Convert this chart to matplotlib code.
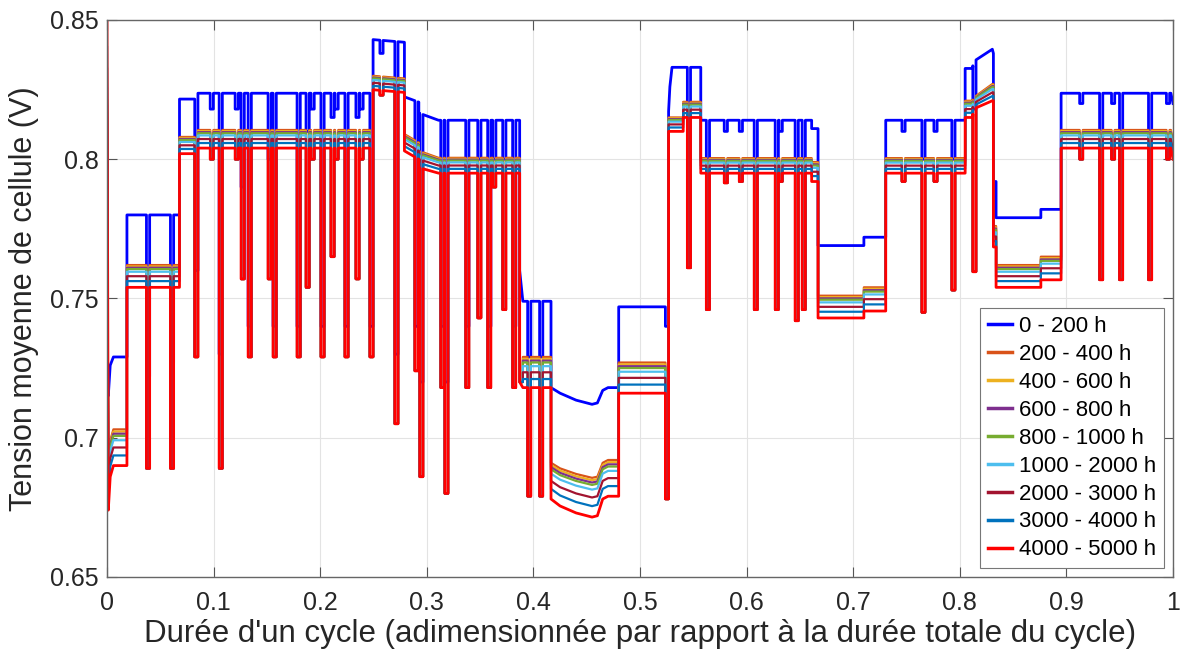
import numpy as np
import matplotlib.pyplot as plt

plt.rcParams['font.family'] = ['Liberation Sans', 'DejaVu Sans']

# breakpoints of the mean cell voltage profile (a repeated x gives a vertical step)
x_pts = [0.0, 0.0012, 0.003, 0.006, 0.0187, 0.0187, 0.068, 0.068, 0.0838, 0.0838,
         0.2481, 0.2481, 0.279, 0.279, 0.2925, 0.2925, 0.311, 0.39, 0.39, 0.4165,
         0.4165, 0.425, 0.44, 0.455, 0.46, 0.465, 0.47, 0.48, 0.48, 0.5265,
         0.5265, 0.528, 0.530, 0.5405, 0.5405, 0.557, 0.557, 0.661, 0.661, 0.667,
         0.667, 0.710, 0.710, 0.7305, 0.7305, 0.805, 0.805, 0.812, 0.8125, 0.8305,
         0.8315, 0.8315, 0.834, 0.834, 0.876, 0.876, 0.895, 0.895, 0.998, 1.0]

# 0 - 200 h
v_new = [0.722, 0.715, 0.726, 0.729, 0.729, 0.780, 0.780, 0.8216, 0.8216, 0.8237,
         0.8237, 0.843, 0.842, 0.8224, 0.8205, 0.8166, 0.814, 0.814, 0.749, 0.749,
         0.718, 0.716, 0.7135, 0.712, 0.7125, 0.717, 0.718, 0.718, 0.747, 0.747,
         0.815, 0.826, 0.833, 0.833, 0.833, 0.833, 0.814, 0.814, 0.811, 0.811,
         0.769, 0.769, 0.772, 0.772, 0.814, 0.814, 0.8326, 0.8326, 0.835, 0.8395,
         0.838, 0.792, 0.792, 0.779, 0.779, 0.782, 0.782, 0.8237, 0.8237, 0.820]

# 200 - 400 h (highest of the aged curves)
v_top = [0.815, 0.688, 0.699, 0.703, 0.703, 0.762, 0.762, 0.808, 0.808, 0.8105,
         0.8105, 0.830, 0.829, 0.809, 0.806, 0.803, 0.8005, 0.8005, 0.729, 0.729,
         0.691, 0.689, 0.687, 0.6856, 0.686, 0.691, 0.692, 0.692, 0.727, 0.727,
         0.815, 0.815, 0.815, 0.815, 0.8206, 0.8206, 0.8004, 0.8004, 0.799, 0.799,
         0.751, 0.751, 0.754, 0.754, 0.8004, 0.8004, 0.821, 0.821, 0.822, 0.827,
         0.827, 0.776, 0.776, 0.762, 0.762, 0.765, 0.765, 0.8105, 0.8105, 0.806]

# 4000 - 5000 h (lowest curve)
v_low = [0.850, 0.674, 0.686, 0.690, 0.690, 0.754, 0.754, 0.802, 0.802, 0.804,
         0.804, 0.825, 0.824, 0.803, 0.800, 0.797, 0.795, 0.795, 0.718, 0.718,
         0.678, 0.6755, 0.673, 0.6715, 0.672, 0.678, 0.679, 0.679, 0.716, 0.716,
         0.810, 0.810, 0.810, 0.810, 0.815, 0.815, 0.795, 0.795, 0.792, 0.792,
         0.743, 0.743, 0.7455, 0.7455, 0.795, 0.795, 0.815, 0.815, 0.818, 0.821,
         0.821, 0.7685, 0.7685, 0.754, 0.754, 0.7567, 0.7567, 0.804, 0.804, 0.800]

# short dips: position, minimum of the 0-200 h curve, minimum of the aged curves
dip_x = [0.0385, 0.0610, 0.0838, 0.0983, 0.1067, 0.1217, 0.1273, 0.1339, 0.1526, 0.1573,
         0.1798, 0.1882, 0.1929, 0.2022, 0.2116, 0.2154, 0.2247, 0.2350, 0.2388, 0.2481,
         0.2575, 0.2715, 0.2903, 0.2949, 0.3146, 0.3184, 0.3380, 0.3493, 0.3586, 0.3633,
         0.3727, 0.3820, 0.3886, 0.3961, 0.4073, 0.5253, 0.5459, 0.5637, 0.5805, 0.5946,
         0.6086, 0.6283, 0.6320, 0.6470, 0.6536, 0.7472, 0.7659, 0.7772, 0.7940, 0.8137,
         0.9139, 0.9326, 0.9438, 0.9513, 0.9785, 0.9953]
dip_new = [0.722, 0.727, 0.760, 0.818, 0.730, 0.818, 0.790, 0.740, 0.800, 0.740,
           0.740, 0.810, 0.818, 0.740, 0.815, 0.818, 0.740, 0.815, 0.818, 0.740,
           0.838, 0.730, 0.740, 0.720, 0.740, 0.720, 0.740, 0.800, 0.740, 0.800,
           0.800, 0.740, 0.760, 0.729, 0.729, 0.740, 0.815, 0.800, 0.810, 0.810,
           0.800, 0.800, 0.810, 0.800, 0.800, 0.810, 0.800, 0.810, 0.800, 0.818,
           0.820, 0.808, 0.820, 0.808, 0.808, 0.820]
dip_old = [0.689, 0.689, 0.729, 0.800, 0.689, 0.800, 0.757, 0.729, 0.757, 0.729,
           0.729, 0.754, 0.800, 0.729, 0.765, 0.800, 0.729, 0.757, 0.800, 0.729,
           0.823, 0.705, 0.724, 0.686, 0.718, 0.680, 0.718, 0.743, 0.718, 0.790,
           0.746, 0.718, 0.720, 0.679, 0.679, 0.678, 0.761, 0.746, 0.7915, 0.792,
           0.746, 0.746, 0.792, 0.742, 0.746, 0.792, 0.745, 0.792, 0.753, 0.7596,
           0.800, 0.7567, 0.800, 0.7567, 0.7567, 0.800]
dip_w = 0.003

labels = ['0 - 200 h', '200 - 400 h', '400 - 600 h', '600 - 800 h', '800 - 1000 h',
          '1000 - 2000 h', '2000 - 3000 h', '3000 - 4000 h', '4000 - 5000 h']
colors = ['#0000FF', '#D95319', '#EDB120', '#7E2F8E', '#77AC30',
          '#4DBEEE', '#A2142F', '#0072BD', '#FF0000']
# where each aged curve sits between v_top (0) and v_low (1)
spread = [0.0, 0.06, 0.12, 0.18, 0.30, 0.50, 0.72, 1.0]


def add_dips(xp, yp, dx, dmin):
    xp = np.asarray(xp)
    yp = np.asarray(yp)
    keep = np.ones(len(xp), dtype=bool)
    for d in dx:
        keep &= np.abs(xp - d) > dip_w / 2
    xs = list(xp[keep])
    ys = list(yp[keep])
    for d, m in zip(dx, dmin):
        left = np.interp(d - dip_w / 2, xp, yp)
        right = np.interp(d + dip_w / 2, xp, yp)
        xs += [d - dip_w / 2, d - dip_w / 2, d + dip_w / 2, d + dip_w / 2]
        ys += [left, min(m, left), min(m, right), right]
    order = np.argsort(xs, kind='stable')
    return np.array(xs)[order], np.array(ys)[order]


fig = plt.figure(figsize=(11.85, 6.53), dpi=100)
ax = fig.add_axes([0.0903, 0.1164, 0.8996, 0.853])

x, y = add_dips(x_pts, v_new, dip_x, dip_new)
ax.plot(x, y, color=colors[0], lw=2.0, label=labels[0])

top = np.array(v_top)
low = np.array(v_low)
for k, s in enumerate(spread):
    lev = top + s * (low - top)
    x, y = add_dips(x_pts, lev, dip_x, dip_old)
    lw = 2.0 if k == len(spread) - 1 else 1.6
    ax.plot(x, y, color=colors[k + 1], lw=lw, label=labels[k + 1])

ax.set_xlim(0, 1)
ax.set_ylim(0.65, 0.85)
ax.set_xticks(np.arange(0, 1.01, 0.1))
ax.set_xticklabels(['0', '0.1', '0.2', '0.3', '0.4', '0.5', '0.6', '0.7', '0.8', '0.9', '1'])
ax.set_yticks([0.65, 0.7, 0.75, 0.8, 0.85])
ax.set_yticklabels(['0.65', '0.7', '0.75', '0.8', '0.85'])
ax.grid(True, color='#e3e3e3', lw=0.8)
ax.set_axisbelow(True)
ax.tick_params(direction='in', length=7, width=0.8, colors='#555555',
               labelcolor='#262626', labelsize=18, top=True, right=True)
ax.tick_params(axis='x', pad=10)
ax.tick_params(axis='y', pad=6)
for sp in ax.spines.values():
    sp.set_color('#666666')
    sp.set_linewidth(1.0)

ax.set_xlabel("Durée d'un cycle (adimensionnée par rapport à la durée totale du cycle)",
              fontsize=22.5, color='#262626', labelpad=3)
ax.set_ylabel('Tension moyenne de cellule (V)', fontsize=22, color='#262626', labelpad=8)

leg = ax.legend(loc='lower right', bbox_to_anchor=(0.9916, 0.016), borderaxespad=0,
                fontsize=16, handlelength=1.1, handletextpad=0.3, labelspacing=0.31,
                borderpad=0.35, fancybox=False, framealpha=1, edgecolor='#777777')
leg.get_frame().set_linewidth(0.8)
for h in leg.get_lines():
    h.set_linewidth(2.5)

fig.savefig('out.png', dpi=100)
